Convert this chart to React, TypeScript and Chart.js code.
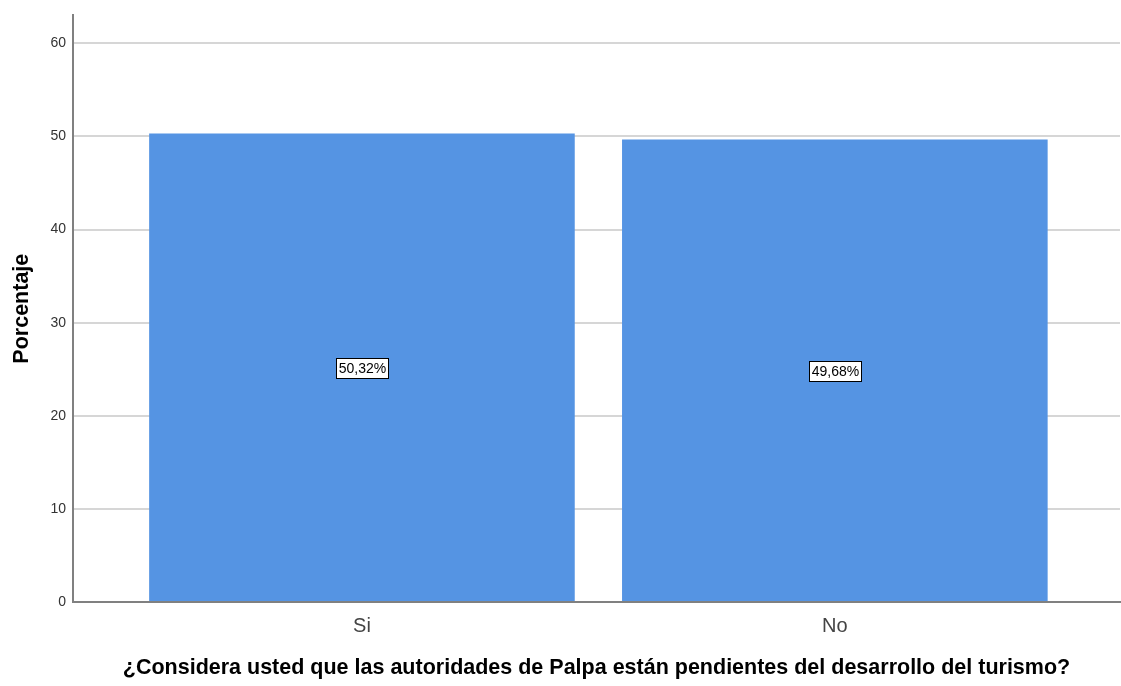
import React, { useEffect, useRef } from "react";
import { Chart, registerables } from "chart.js";

Chart.register(...registerables);

const categories = ["Si", "No"];
const percentages = [50.32, 49.68];
const valueLabels = ["50,32%", "49,68%"];
const yTicks = [0, 10, 20, 30, 40, 50, 60];
const xTitle = "¿Considera usted que las autoridades de Palpa están pendientes del desarrollo del turismo?";
const yTitle = "Porcentaje";

const FONT = "Arial, 'Liberation Sans', sans-serif";

const labelPlugin = {
  id: "boxLabels",
  afterDatasetsDraw(chart: any) {
    const ctx = chart.ctx;
    const meta = chart.getDatasetMeta(0);
    const yScale = chart.scales.y;
    ctx.save();
    ctx.font = `14px ${FONT}`;
    ctx.textAlign = "center";
    ctx.textBaseline = "middle";
    meta.data.forEach((bar: any, i: number) => {
      const text = valueLabels[i];
      const cx = bar.x;
      const cy = yScale.getPixelForValue(percentages[i] / 2);
      const w = Math.round(ctx.measureText(text).width + 5);
      const h = 20;
      const x0 = Math.round(cx - w / 2);
      const y0 = Math.round(cy - h / 2);
      ctx.fillStyle = "#ffffff";
      ctx.fillRect(x0, y0, w, h);
      ctx.strokeStyle = "#000000";
      ctx.lineWidth = 1;
      ctx.strokeRect(x0 + 0.5, y0 + 0.5, w, h);
      ctx.fillStyle = "#000000";
      ctx.fillText(text, x0 + w / 2 + 0.5, y0 + h / 2 + 1);
    });
    ctx.restore();
  },
};

export default function App() {
  const ref = useRef<HTMLCanvasElement | null>(null);
  useEffect(() => {
    if (!ref.current) return;
    const chart = new Chart(ref.current, {
      type: "bar",
      data: {
        datasets: [
          {
            data: categories.map((_, i) => ({ x: i, y: percentages[i] })),
            backgroundColor: "#5594e3",
            borderWidth: 0,
            barPercentage: 0.9,
            categoryPercentage: 1,
          },
        ],
      },
      plugins: [labelPlugin],
      options: {
        animation: false,
        responsive: false,
        layout: { padding: { top: 14, right: 1, left: 0, bottom: 0 } },
        plugins: { legend: { display: false }, tooltip: { enabled: false } },
        scales: {
          x: {
            type: "linear",
            offset: false,
            min: -0.611,
            max: 1.603,
            afterBuildTicks: (scale: any) => {
              scale.ticks = categories.map((_, i) => ({ value: i }));
            },
            afterFit: (scale: any) => {
              scale.height = 84;
            },
            ticks: {
              callback: (v: any) => categories[v] ?? "",
              font: { family: FONT, size: 20 },
              color: "#444444",
              padding: 12,
              maxRotation: 0,
              autoSkip: false,
            },
            grid: { display: false, drawTicks: false },
            border: { display: true, color: "#808080", width: 2 },
            title: {
              display: true,
              text: xTitle,
              font: { family: FONT, size: 21.5, weight: "bold" },
              color: "#000000",
              padding: { top: 0, bottom: 5 },
            },
          },
          y: {
            min: 0,
            max: 63,
            afterBuildTicks: (scale: any) => {
              scale.ticks = yTicks.map((v) => ({ value: v }));
            },
            afterFit: (scale: any) => {
              scale.width = 73;
            },
            ticks: {
              font: { family: FONT, size: 14 },
              color: "#333333",
              padding: 7,
            },
            grid: { color: "#d6d6d6", lineWidth: 2, drawTicks: false },
            border: { display: true, color: "#808080", width: 2 },
            title: {
              display: true,
              text: yTitle,
              font: { family: FONT, size: 21.5, weight: "bold" },
              color: "#000000",
              padding: { top: 9, bottom: 0 },
            },
          },
        },
      },
    } as any);
    return () => chart.destroy();
  }, []);
  return (
    <div style={{ position: "fixed", left: 0, top: 0, width: 1121, height: 686, background: "#fff" }}>
      <canvas ref={ref} width={1121} height={686} style={{ width: 1121, height: 686 }} />
    </div>
  );
}
